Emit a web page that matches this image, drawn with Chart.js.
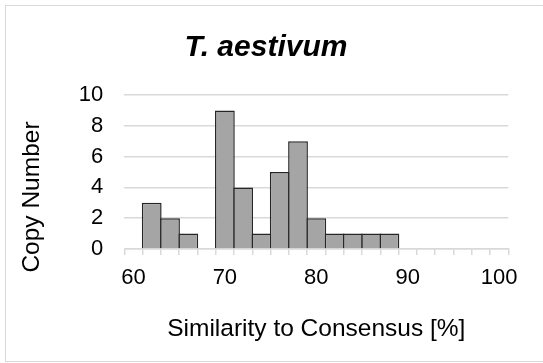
<!DOCTYPE html>
<html>
<head>
<meta charset="utf-8">
<script src="https://cdn.jsdelivr.net/npm/chart.js@4"></script>
<style>
  html, body { margin: 0; padding: 0; background: #fff; overflow: hidden; }
  #wrap { position: relative; width: 543px; height: 363px; }
  #frame {
    position: absolute; left: 5px; top: 5px; width: 560px; height: 357px;
    border: 1.5px solid #d9d9d9; box-sizing: border-box;
  }
  #simChart { position: absolute; left: 0; top: 0; }
</style>
</head>
<body>
<div id="wrap">
  <div id="frame"></div>
  <canvas id="simChart" width="543" height="363"></canvas>
</div>
<script>
// histogram bins (lower edge, %) and how many copies fall in each
const binLabels = ["60", "62", "64", "66", "68", "70", "72", "74", "76", "78", "80",
                   "82", "84", "86", "88", "90", "92", "94", "96", "98", "100"];
const copyNumbers = [0, 3, 2, 1, 0, 9, 4, 1, 5, 7, 2, 1, 1, 1, 1, 0, 0, 0, 0, 0, 0];
const shownTicks = ["60", "70", "80", "90", "100"];
const yTicks = [0, 2, 4, 6, 8, 10];

const chartTitle = "T. aestivum";
const yTitle = "Copy Number";
const xTitle = "Similarity to Consensus [%]";

Chart.defaults.font.family = '"Liberation Sans", Arial, sans-serif';
Chart.defaults.color = "#000";

// main title and the y-axis title are placed by hand
const titles = {
  id: "titles",
  afterDraw(chart) {
    const ctx = chart.ctx;
    ctx.save();
    ctx.fillStyle = "#000";
    ctx.textAlign = "center";
    ctx.textBaseline = "alphabetic";
    ctx.font = 'italic bold 30px "Liberation Sans", Arial, sans-serif';
    ctx.fillText(chartTitle, 266, 56);

    ctx.font = '24.5px "Liberation Sans", Arial, sans-serif';
    ctx.translate(39, 197);
    ctx.rotate(-Math.PI / 2);
    ctx.fillText(yTitle, 0, 0);
    ctx.restore();
  }
};

new Chart(document.getElementById("simChart"), {
  type: "bar",
  data: {
    labels: binLabels,
    datasets: [{
      data: copyNumbers,
      backgroundColor: "#a5a5a5",
      borderColor: "#262626",
      borderWidth: 1.5,
      barPercentage: 1.082,   // neighbours share one outline
      categoryPercentage: 1
    }]
  },
  options: {
    responsive: false,
    animation: false,
    layout: { padding: { left: 5, right: 34.7, top: 95, bottom: 5 } },
    plugins: {
      legend: { display: false },
      title: { display: false },
      tooltip: { enabled: false }
    },
    scales: {
      x: {
        grid: {
          drawOnChartArea: false,
          drawTicks: true,
          tickLength: 6,
          color: "#d9d9d9",
          lineWidth: 1.5,
          offset: true
        },
        border: { color: "#d9d9d9", width: 1.5 },
        ticks: {
          autoSkip: false,
          maxRotation: 0,
          padding: 10,
          font: { size: 22 },
          callback(value) {
            const lab = this.getLabelForValue(value);
            return shownTicks.includes(lab) ? lab : "";
          }
        },
        title: {
          display: true,
          text: xTitle,
          font: { size: 24.5 },
          padding: { top: 0, bottom: 13.6 }
        },
        afterFit(scale) { scale.height = 109; }
      },
      y: {
        min: 0,
        max: 10,
        grid: { color: "#d9d9d9", lineWidth: 1.5, drawTicks: false },
        border: { display: false },
        ticks: {
          stepSize: 2,
          padding: 21,
          font: { size: 22 },
          callback: v => yTicks.includes(v) ? v : null
        },
        afterFit(scale) { scale.width = 119.3; }
      }
    }
  },
  plugins: [titles]
});
</script>
</body>
</html>
